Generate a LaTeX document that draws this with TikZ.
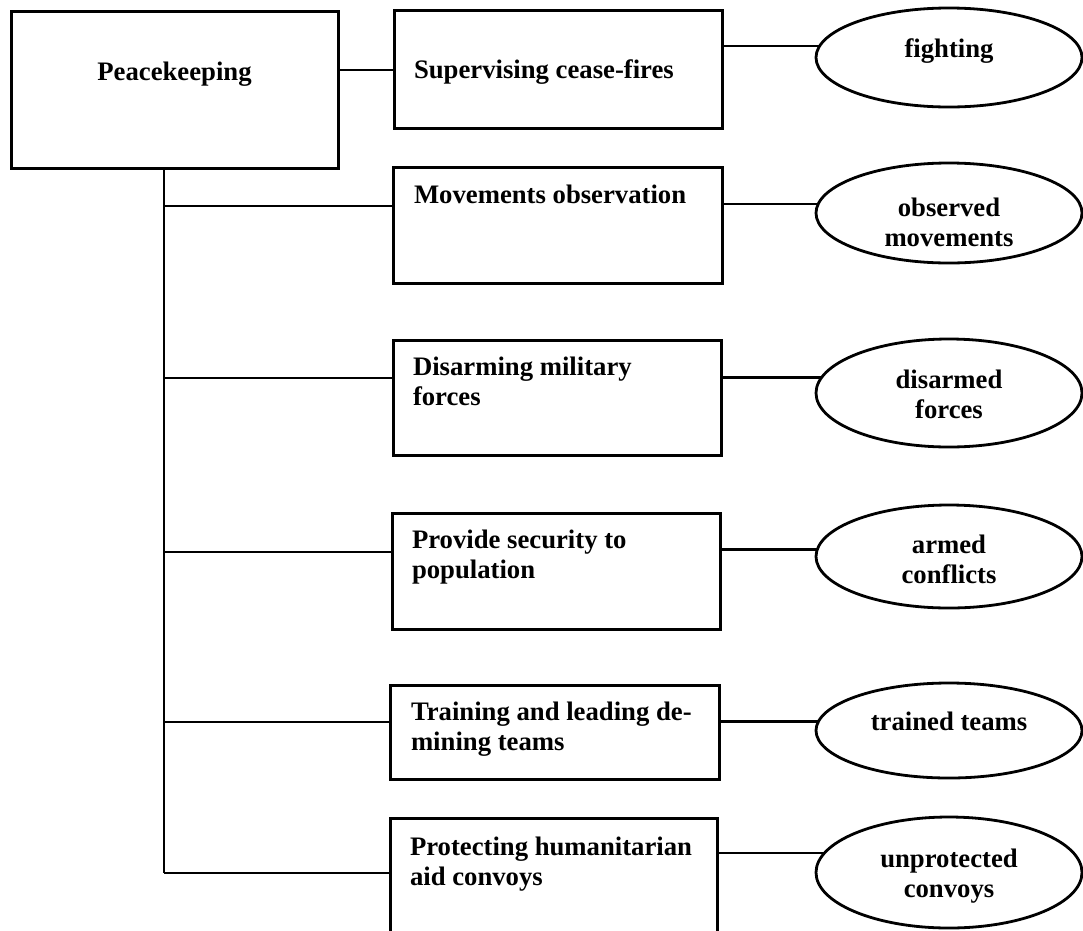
\documentclass[tikz,border=0pt]{standalone}
\usepackage{fontspec}
\setmainfont{Liberation Serif}
\usetikzlibrary{shapes.geometric}
\begin{document}
\begin{tikzpicture}[x=1pt,y=-1pt,
  box/.style={draw, line width=3pt, rectangle, anchor=north west, inner sep=0pt, outer sep=0pt},
  oval/.style={draw, line width=2.8pt, ellipse, minimum width=266pt, inner sep=0pt, outer sep=0pt},
  conn/.style={line width=2.4pt},
  txt/.style={inner sep=0pt, outer sep=0pt, font=\fontsize{26.7}{30}\selectfont\bfseries}]
\useasboundingbox (0,0) rectangle (1083,930);
\fill[white] (0,0) rectangle (1083,930);

% boxes
\node[box, minimum width=327pt, minimum height=157pt] (P)  at (11,11) {};
\node[box, minimum width=328pt, minimum height=118pt] (b1) at (394,10) {};
\node[box, minimum width=329pt, minimum height=116pt] (b2) at (393,167) {};
\node[box, minimum width=328pt, minimum height=115pt] (b3) at (393,340) {};
\node[box, minimum width=328pt, minimum height=116pt] (b4) at (392,513) {};
\node[box, minimum width=329pt, minimum height=94pt]  (b5) at (390,685) {};
\node[box, minimum width=327pt, minimum height=114pt] (b6) at (390,818) {};

% ellipses
\node[oval, minimum height=99pt]  (e1) at (949,57.5) {};
\node[oval, minimum height=100pt] (e2) at (949,213) {};
\node[oval, minimum height=108pt] (e3) at (949,393) {};
\node[oval, minimum height=103pt] (e4) at (949,556.5) {};
\node[oval, minimum height=95pt]  (e5) at (949,730.5) {};
\node[oval, minimum height=111pt] (e6) at (949,872.5) {};

% box texts
\node[txt, anchor=base] (tP) at (P.north |- 0,80) {Peacekeeping};
\node[txt, anchor=base west] (t1) at (414,78) {Supervising cease-fires};
\node[txt, anchor=base west] (t2) at (414,203) {Movements observation};
\node[txt, anchor=base west] (t3) at (413,375) {\begin{tabular}[t]{@{}l@{}}Disarming military\\forces\end{tabular}};
\node[txt, anchor=base west] (t4) at (412,548) {\begin{tabular}[t]{@{}l@{}}Provide security to\\population\end{tabular}};
\node[txt, anchor=base west] (t5) at (411,720) {\begin{tabular}[t]{@{}l@{}}Training and leading de-\\mining teams\end{tabular}};
\node[txt, anchor=base west] (t6) at (410,855) {\begin{tabular}[t]{@{}l@{}}Protecting humanitarian\\aid convoys\end{tabular}};

% ellipse texts
\node[txt, anchor=base] (u1) at (e1.center |- 0,57) {fighting};
\node[txt, anchor=base] (u2) at (e2.center |- 0,216) {\begin{tabular}[t]{@{}c@{}}observed\\movements\end{tabular}};
\node[txt, anchor=base] (u3) at (e3.center |- 0,388) {\begin{tabular}[t]{@{}c@{}}disarmed\\forces\end{tabular}};
\node[txt, anchor=base] (u4) at (e4.center |- 0,553) {\begin{tabular}[t]{@{}c@{}}armed\\conflicts\end{tabular}};
\node[txt, anchor=base] (u5) at (e5.center |- 0,730) {trained teams};
\node[txt, anchor=base] (u6) at (e6.center |- 0,867) {\begin{tabular}[t]{@{}c@{}}unprotected\\convoys\end{tabular}};

% connectors: root to first box
\draw[conn] (P.east |- 0,70) -- (b1.west |- 0,70);

% trunk
\coordinate (tx) at (164,0);
\draw[conn] (tx |- P.south) -- (tx |- 0,873);
\draw[conn] (tx |- 0,206) -- (b2.west |- 0,206);
\draw[conn] (tx |- 0,378) -- (b3.west |- 0,378);
\draw[conn] (tx |- 0,552) -- (b4.west |- 0,552);
\draw[conn] (tx |- 0,722) -- (b5.west |- 0,722);
\draw[conn] (tx |- 0,873) -- (b6.west |- 0,873);

% box to ellipse
\draw[conn] (b1.east |- e1.175.8) -- (e1.175.8);
\draw[conn] (b2.east |- e2.176.5) -- (e2.176.5);
\draw[conn] (b3.east |- e3.173.3) -- (e3.173.3);
\draw[conn] (b4.east |- e4.177.6) -- (e4.177.6);
\draw[conn] (b5.east |- e5.176.3) -- (e5.176.3);
\draw[conn] (b6.east |- e6.171.1) -- (e6.171.1);
\end{tikzpicture}
\end{document}
